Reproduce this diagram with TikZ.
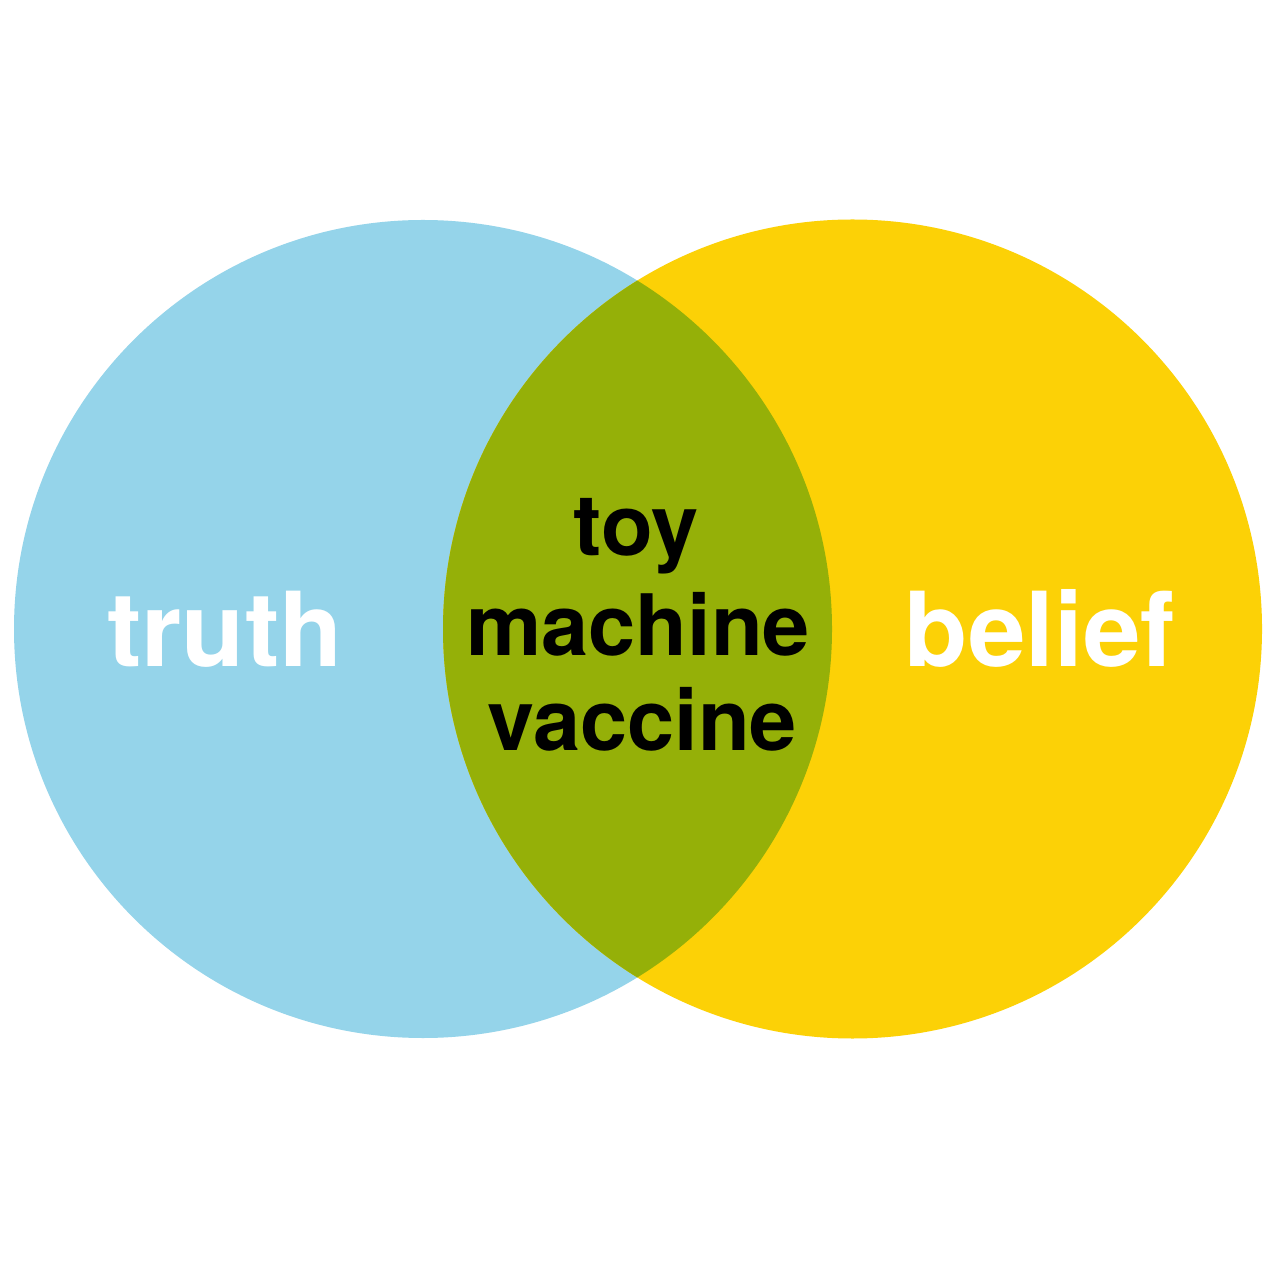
\documentclass[tikz,border=0pt]{standalone}
\usepackage{fontspec}
\setmainfont{TeX Gyre Heros}
\definecolor{truthblue}{HTML}{95D4EA}
\definecolor{beliefyellow}{HTML}{FCD106}
\definecolor{overlapgreen}{HTML}{95B008}
\begin{document}
\begin{tikzpicture}[x=0.01cm,y=-0.01cm,
  setlabel/.style={font=\fontsize{29.4}{33}\selectfont\bfseries, text=white, anchor=base, inner sep=0pt},
  midlabel/.style={font=\fontsize{24.1}{27}\selectfont\bfseries, text=black, anchor=base, inner sep=0pt}]
  \useasboundingbox (0,0) rectangle (1280,1280);
  \fill[white] (0,0) rectangle (1280,1280);
  % the two sets
  \fill[truthblue] (423,629) circle [radius=409];
  \fill[beliefyellow] (852.5,629) circle [radius=409.5];
  % their intersection
  \begin{scope}
    \clip (423,629) circle [radius=409];
    \fill[overlapgreen] (852.5,629) circle [radius=409.5];
  \end{scope}
  % labels
  \node[setlabel] (truth) at (225,667) {truth};
  \node[setlabel] (belief) at (1040,667) {belief};
  \node[midlabel] (toy) at (636,556) {toy};
  \node[midlabel] (machine) at (638,656) {machine};
  \node[midlabel] (vaccine) at (642,750) {vaccine};
\end{tikzpicture}
\end{document}
